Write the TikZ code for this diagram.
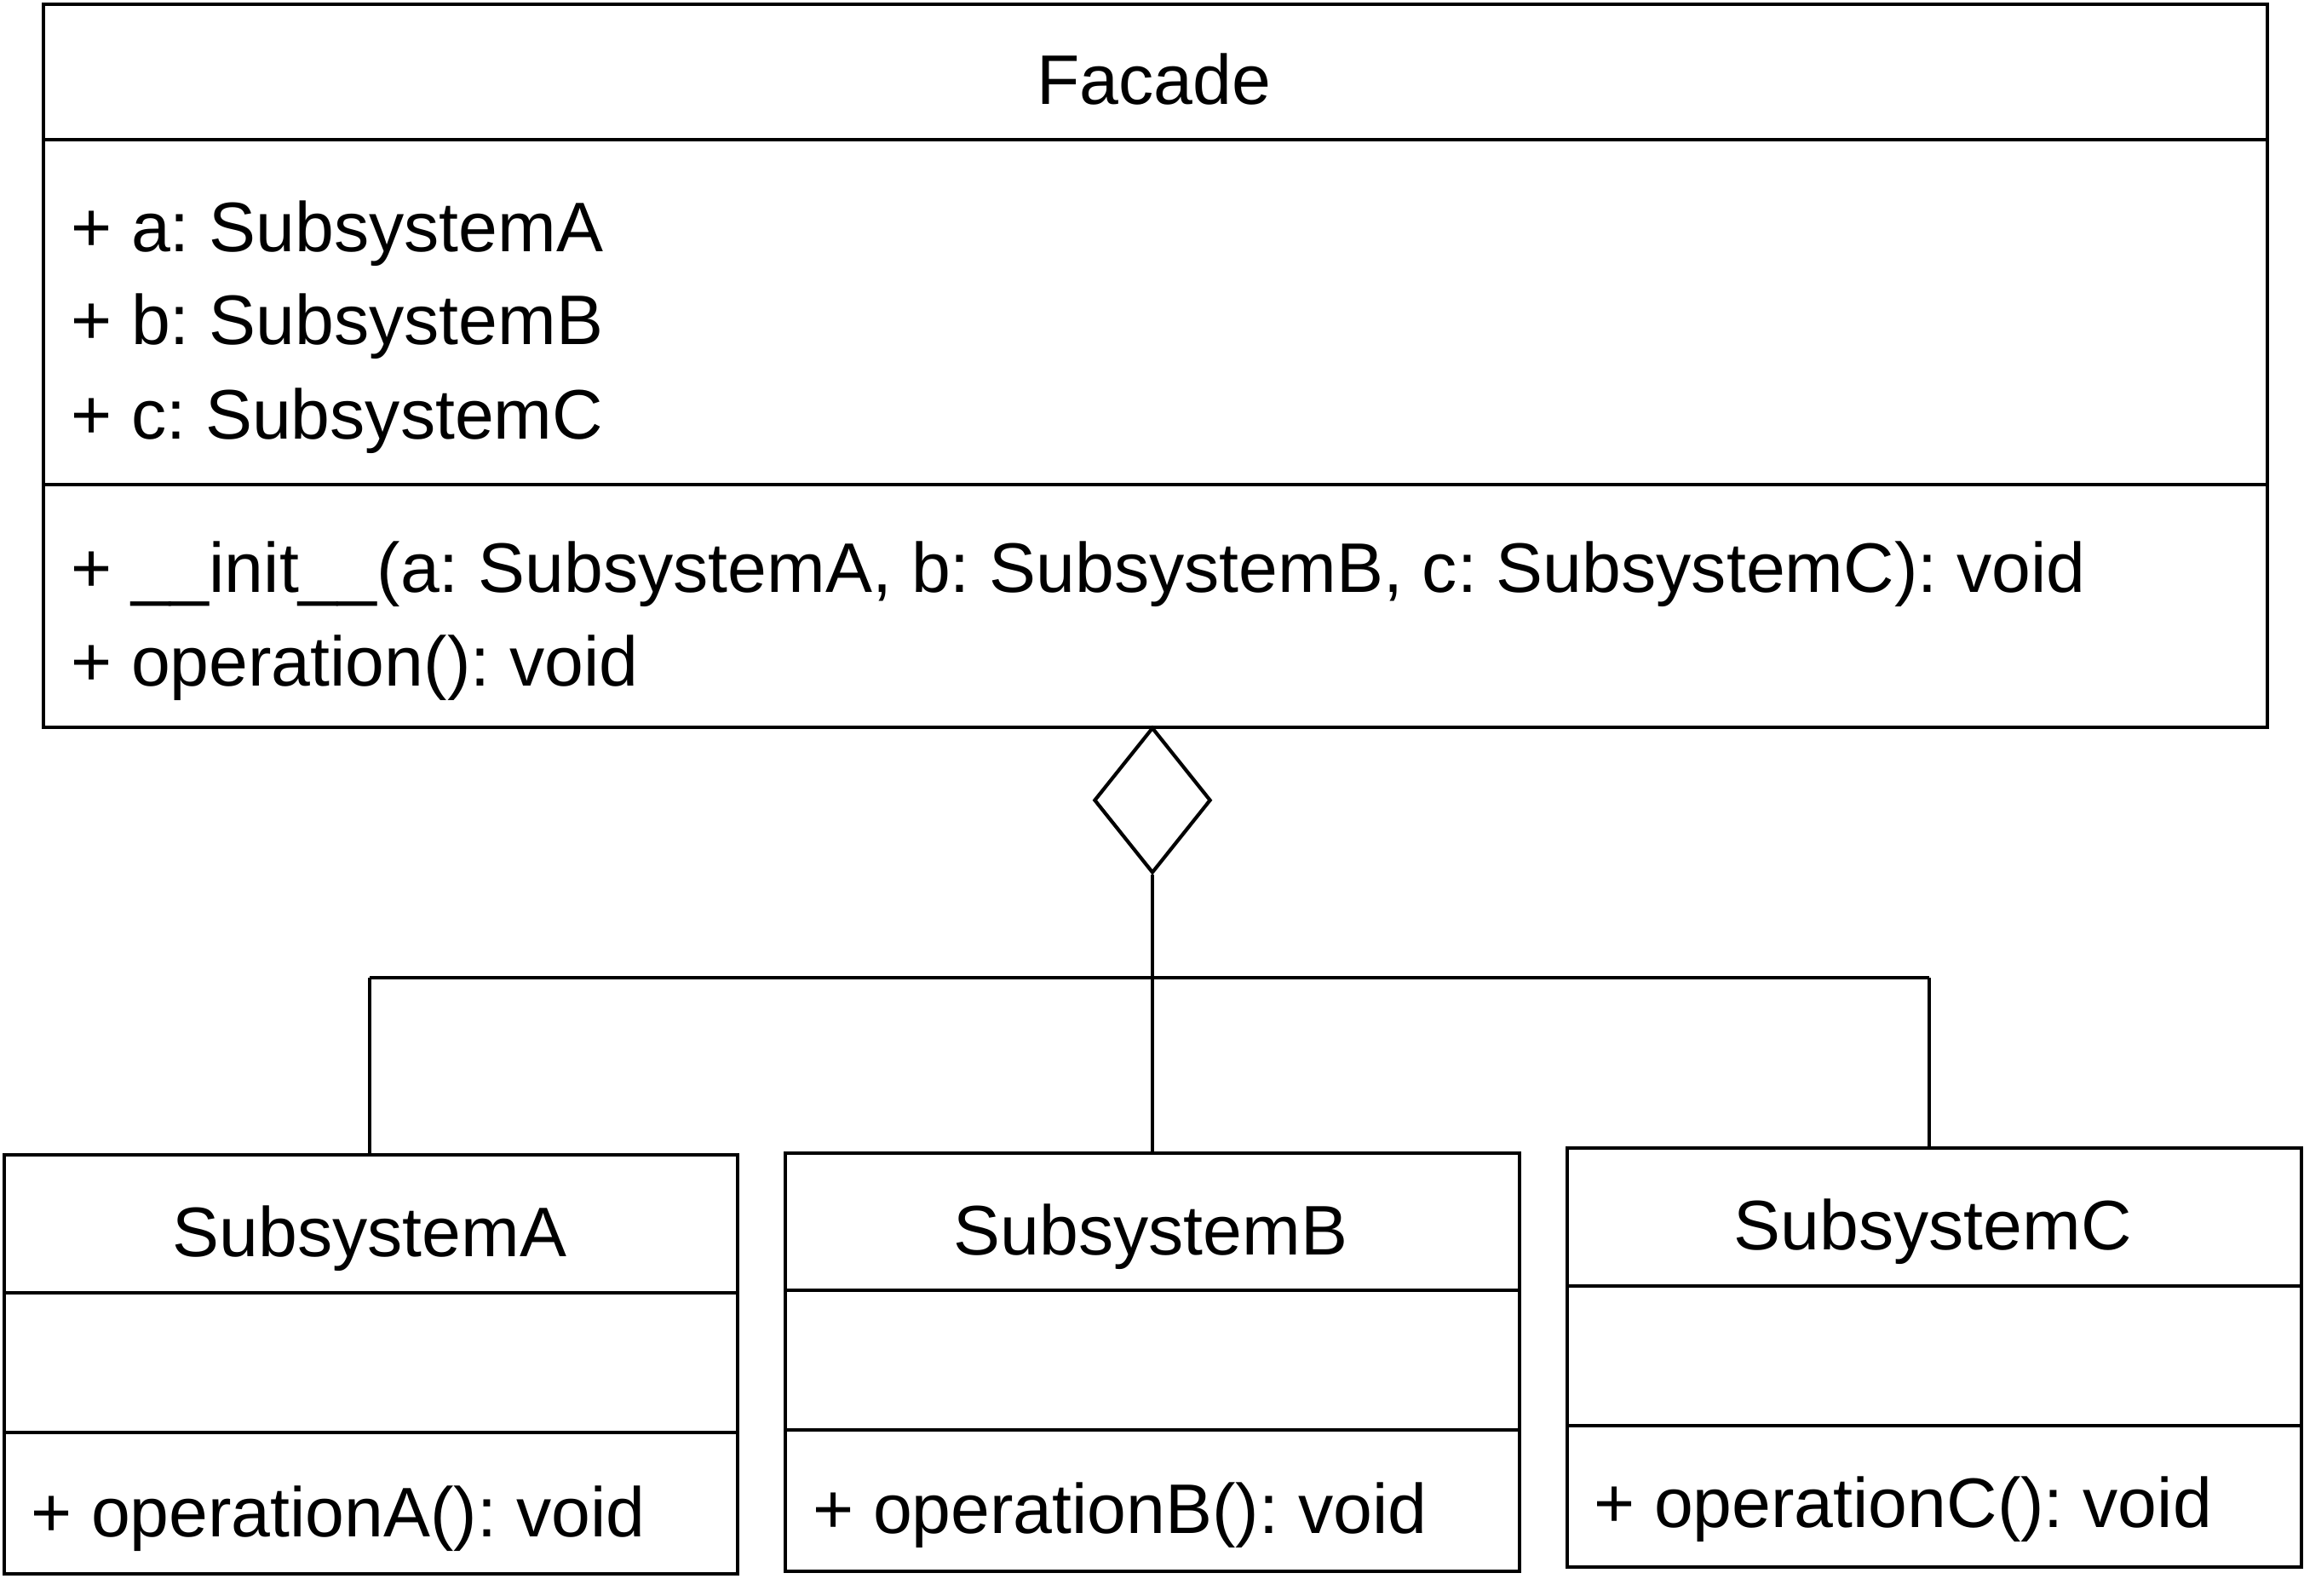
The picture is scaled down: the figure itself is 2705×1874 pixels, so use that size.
\documentclass[tikz,border=0pt]{standalone}
\usepackage{fontspec}
\setmainfont{Liberation Sans}
\usetikzlibrary{shapes.geometric}
\frenchspacing
\begin{document}
\begin{tikzpicture}[x=0.5pt,y=-0.5pt,
  line width=2.1pt,
  umlbox/.style={draw, rectangle, inner sep=0pt, anchor=north west},
  divider/.style={line width=2.1pt},
  conn/.style={line width=2.1pt},
  txt/.style={inner sep=0pt, anchor=base west, font=\fontsize{41.2}{50}\selectfont},
  ttl/.style={inner sep=0pt, anchor=base, font=\fontsize{41.2}{50}\selectfont}]
\useasboundingbox (0,0) rectangle (2705,1874);
\fill[white] (0,0) rectangle (2705,1874);

% Facade
\node (facade) [umlbox, minimum width=1305.5pt, minimum height=424.5pt] at (49,3) {};
\draw[divider] (49,164) -- (2660,164);
\draw[divider] (49,569) -- (2660,569);
\node (ft) [ttl] at (1355,122) {Facade};
\node (fa1) [txt] at (81,295) {+ a: SubsystemA};
\node (fa2) [txt] at (81,404) {+ b: SubsystemB};
\node (fa3) [txt] at (81,515) {+ c: SubsystemC};
\node (fo1) [txt] at (81,695) {+ \_\_init\_\_(a: SubsystemA, b: SubsystemB, c: SubsystemC): void};
\node (fo2) [txt] at (81,805) {+ operation(): void};

% SubsystemA
\node (A) [umlbox, minimum width=430.5pt, minimum height=246pt] at (3,1354) {};
\draw[divider] (3,1518) -- (864,1518);
\draw[divider] (3,1682) -- (864,1682);
\node (At) [ttl] at (434,1475) {SubsystemA};
\node (Ao) [txt] at (34,1804) {+ operationA(): void};

% SubsystemB
\node (B) [umlbox, minimum width=431pt, minimum height=245.5pt] at (920,1352) {};
\draw[divider] (920,1515) -- (1782,1515);
\draw[divider] (920,1679) -- (1782,1679);
\node (Bt) [ttl] at (1351,1473) {SubsystemB};
\node (Bo) [txt] at (952,1800) {+ operationB(): void};

% SubsystemC
\node (C) [umlbox, minimum width=431pt, minimum height=246pt] at (1838,1346) {};
\draw[divider] (1838,1510) -- (2700,1510);
\draw[divider] (1838,1674) -- (2700,1674);
\node (Ct) [ttl] at (2269,1467) {SubsystemC};
\node (Co) [txt] at (1869,1793) {+ operationC(): void};

% aggregation diamond
\node (agg) [diamond, draw, inner sep=0pt, minimum width=68.5pt, minimum height=85.5pt, anchor=north] at (1353,852) {};

% connectors
\coordinate (j) at (1353,1148);
\coordinate (ja) at (434,1148);
\coordinate (jc) at (2265,1148);
\draw[conn] (agg.south) -- (j) -- (1353,1352);
\draw[conn] (ja) -- (jc);
\draw[conn] (ja) -- (434,1354);
\draw[conn] (jc) -- (2265,1346);
\end{tikzpicture}
\end{document}
